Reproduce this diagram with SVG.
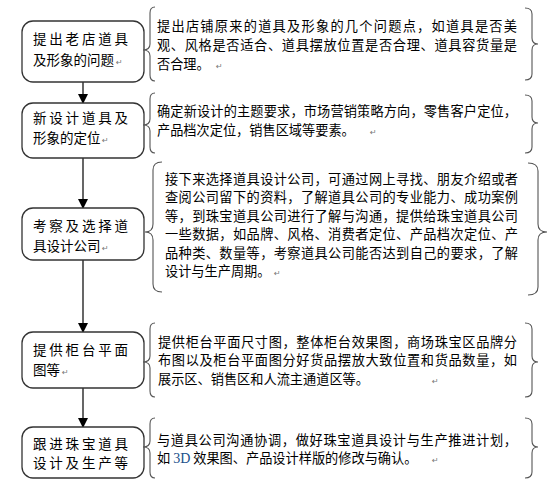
<svg xmlns="http://www.w3.org/2000/svg" width="559" height="492" viewBox="0 0 559 492">
<style>
.box{fill:#fff;stroke:#333;stroke-width:1.3}
.br{fill:none;stroke:#555;stroke-width:1.1}
.lt{font-family:"Noto Sans CJK SC",sans-serif;font-size:13.5px;fill:#000}
.rt{font-family:"Noto Sans CJK SC",sans-serif;font-size:13.2px;fill:#000}
.pm{font-family:"DejaVu Sans",sans-serif;font-size:8px;fill:#777}
.ln{stroke:#000;stroke-width:1.2;fill:none}
.en{font-family:"Liberation Serif",serif;font-size:14px;fill:#1a4f8a}
</style>
<defs>
<marker id="ah" markerWidth="10" markerHeight="10" refX="9" refY="5" orient="auto" markerUnits="userSpaceOnUse">
<path d="M0,0 L10,5 L0,10 Z" fill="#000"/>
</marker>
</defs>
<rect width="559" height="492" fill="#fff"/>
<g id="connectors">
<line class="ln" x1="83" y1="82" x2="83" y2="103" marker-end="url(#ah)"/>
<line class="ln" x1="83" y1="158" x2="83" y2="208" marker-end="url(#ah)"/>
<line class="ln" x1="83" y1="260" x2="83" y2="332" marker-end="url(#ah)"/>
<line class="ln" x1="83" y1="388" x2="83" y2="427" marker-end="url(#ah)"/>
</g>
<g id="step1">
<rect class="box" x="22" y="21" width="122" height="61" rx="11"/>
<text class="lt" x="33" y="44" textLength="95" lengthAdjust="spacing">提出老店道具</text>
<text class="lt" x="33" y="65">及形象的问题</text>
<text class="pm" x="116" y="65">↵</text>
</g>
<g id="desc1">
<path class="br" d="M155,7 Q150,7 150,13 L150,44 Q150,50 143,50 Q150,50 150,56 L150,75 Q150,81 155,81"/>
<path class="br" d="M525,8 Q532,8 532,14 L532,38 Q532,44 538,44 Q532,44 532,50 L532,74 Q532,80 525,80"/>
<text class="rt" x="157" y="31" textLength="360" lengthAdjust="spacing">提出店铺原来的道具及形象的几个问题点，如道具是否美</text>
<text class="rt" x="157" y="50" textLength="360" lengthAdjust="spacing">观、风格是否适合、道具摆放位置是否合理、道具容货量是</text>
<text class="rt" x="157" y="69">否合理。</text>
<text class="pm" x="216" y="69">↵</text>
</g>
<g id="step2">
<rect class="box" x="22" y="103" width="122" height="55" rx="11"/>
<text class="lt" x="33" y="123" textLength="95" lengthAdjust="spacing">新设计道具及</text>
<text class="lt" x="33" y="143">形象的定位</text>
<text class="pm" x="102" y="143">↵</text>
</g>
<g id="desc2">
<path class="br" d="M155,93 Q150,93 150,99 L150,119 Q150,125 143,125 Q150,125 150,131 L150,147 Q150,153 155,153"/>
<path class="br" d="M525,95 Q532,95 532,101 L532,117 Q532,123 538,123 Q532,123 532,129 L532,147 Q532,153 525,153"/>
<text class="rt" x="157" y="116" textLength="360" lengthAdjust="spacing">确定新设计的主题要求，市场营销策略方向，零售客户定位，</text>
<text class="rt" x="157" y="135">产品档次定位，销售区域等要素。</text>
<text class="pm" x="370" y="135">↵</text>
</g>
<g id="step3">
<rect class="box" x="22" y="208" width="122" height="52" rx="11"/>
<text class="lt" x="33" y="231" textLength="95" lengthAdjust="spacing">考察及选择道</text>
<text class="lt" x="33" y="251">具设计公司</text>
<text class="pm" x="102" y="251">↵</text>
</g>
<g id="desc3">
<path class="br" d="M162,162 Q153,162 153,170 L153,224 Q153,232 145,232 Q153,232 153,240 L153,284 Q153,292 162,292"/>
<path class="br" d="M528,163 Q538,163 538,171 L538,224 Q538,232 547,232 Q538,232 538,240 L538,287 Q538,295 528,295"/>
<text class="rt" x="165" y="184" textLength="353" lengthAdjust="spacing">接下来选择道具设计公司，可通过网上寻找、朋友介绍或者</text>
<text class="rt" x="165" y="202" textLength="353" lengthAdjust="spacing">查阅公司留下的资料，了解道具公司的专业能力、成功案例</text>
<text class="rt" x="165" y="221" textLength="353" lengthAdjust="spacing">等，到珠宝道具公司进行了解与沟通，提供给珠宝道具公司</text>
<text class="rt" x="165" y="239" textLength="353" lengthAdjust="spacing">一些数据，如品牌、风格、消费者定位、产品档次定位、产</text>
<text class="rt" x="165" y="258" textLength="353" lengthAdjust="spacing">品种类、数量等，考察道具公司能否达到自己的要求，了解</text>
<text class="rt" x="165" y="276">设计与生产周期。</text>
<text class="pm" x="274" y="276">↵</text>
</g>
<g id="step4">
<rect class="box" x="22" y="332" width="122" height="56" rx="11"/>
<text class="lt" x="33" y="355" textLength="95" lengthAdjust="spacing">提供柜台平面</text>
<text class="lt" x="33" y="375">图等</text>
<text class="pm" x="62" y="375">↵</text>
</g>
<g id="desc4">
<path class="br" d="M155,323 Q150,323 150,329 L150,356 Q150,362 143,362 Q150,362 150,368 L150,391 Q150,397 155,397"/>
<path class="br" d="M525,323 Q532,323 532,329 L532,356 Q532,362 538,362 Q532,362 532,368 L532,391 Q532,397 525,397"/>
<text class="rt" x="158" y="347" textLength="359" lengthAdjust="spacing">提供柜台平面尺寸图，整体柜台效果图，商场珠宝区品牌分</text>
<text class="rt" x="158" y="365" textLength="359" lengthAdjust="spacing">布图以及柜台平面图分好货品摆放大致位置和货品数量，如</text>
<text class="rt" x="158" y="384">展示区、销售区和人流主通道区等。</text>
<text class="pm" x="432" y="384">↵</text>
</g>
<g id="step5">
<rect class="box" x="22" y="427" width="122" height="51" rx="11"/>
<text class="lt" x="33" y="449" textLength="95" lengthAdjust="spacing">跟进珠宝道具</text>
<text class="lt" x="33" y="468" textLength="95" lengthAdjust="spacing">设计及生产等</text>
</g>
<g id="desc5">
<path class="br" d="M155,418 Q150,418 150,424 L150,441 Q150,447 143,447 Q150,447 150,453 L150,472 Q150,478 155,478"/>
<path class="br" d="M525,418 Q532,418 532,424 L532,441 Q532,447 538,447 Q532,447 532,453 L532,472 Q532,478 525,478"/>
<text class="rt" x="157" y="445" textLength="360" lengthAdjust="spacing">与道具公司沟通协调，做好珠宝道具设计与生产推进计划，</text>
<text class="rt" x="157" y="463">如 <tspan class="en">3D</tspan> 效果图、产品设计样版的修改与确认。</text>
<text class="pm" x="432" y="463">↵</text>
</g>
</svg>
